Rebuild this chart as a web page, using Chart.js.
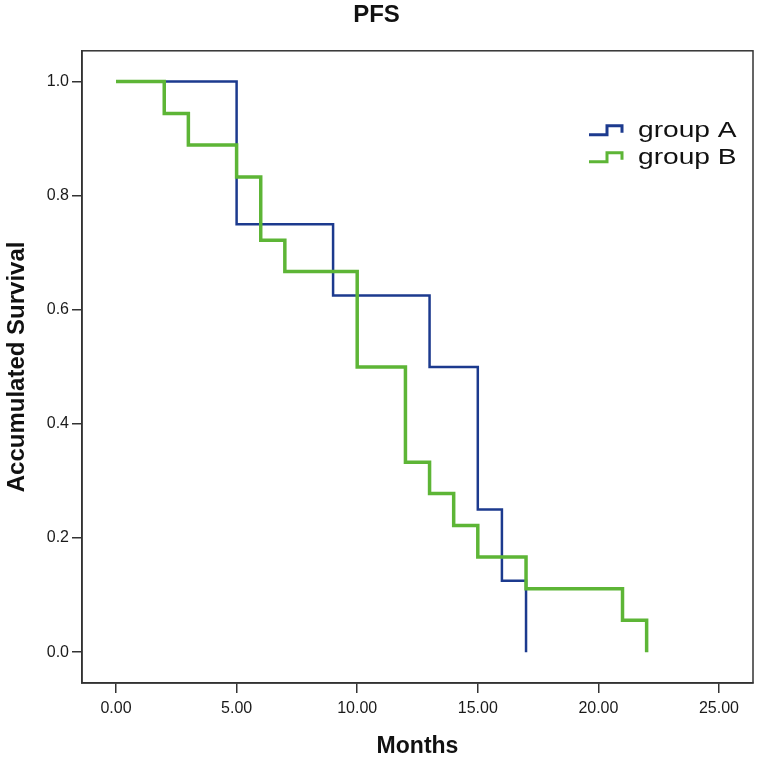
<!DOCTYPE html>
<html>
<head>
<meta charset="utf-8">
<script src="https://cdn.jsdelivr.net/npm/chart.js@4.4.1/dist/chart.umd.min.js"></script>
<style>
  body { margin: 0; background: #fff; }
</style>
</head>
<body>
<canvas id="myChart" width="760" height="762"></canvas>
<script>
const ctx = document.getElementById('myChart');

// Kaplan-Meier steps
const groupATimes = [0, 5, 9, 13, 15, 16, 17];
const groupASurv  = [1.0, 0.75, 0.625, 0.5, 0.25, 0.125, 0.0];
const groupBTimes = [0, 2, 3, 5, 6, 7, 10, 12, 13, 14, 15, 17, 21, 22];
const groupBSurv  = [1.0, 0.944, 0.889, 0.833, 0.722, 0.667, 0.5, 0.333, 0.278, 0.222, 0.167, 0.111, 0.056, 0.0];
const xTicks = [0, 5, 10, 15, 20, 25];
const yTicks = [0, 0.2, 0.4, 0.6, 0.8, 1.0];

const FONT = "'Liberation Sans', Arial, sans-serif";

function toPoints(xs, ys) {
    return xs.map((x, i) => ({ x: x, y: ys[i] }));
}

// box round the plot area
const frame = {
    id: 'frame',
    afterDraw(chart) {
        const a = chart.chartArea;
        const c = chart.ctx;
        c.save();
        c.strokeStyle = '#333';
        c.lineWidth = 1.5;
        c.strokeRect(a.left, a.top, a.right - a.left, a.bottom - a.top);
        c.restore();
    }
};

// SPSS style legend with little step symbols
const stepLegend = {
    id: 'stepLegend',
    afterDraw(chart) {
        const a = chart.chartArea;
        const c = chart.ctx;
        const x0 = a.right - 164;
        let yb = a.top + 86;
        chart.data.datasets.slice().reverse().forEach(ds => {
            c.save();
            c.strokeStyle = ds.borderColor;
            c.lineWidth = 3;
            c.beginPath();
            c.moveTo(x0, yb - 2);
            c.lineTo(x0 + 18, yb - 2);
            c.lineTo(x0 + 18, yb - 11);
            c.lineTo(x0 + 33, yb - 11);
            c.lineTo(x0 + 33, yb - 4);
            c.stroke();
            c.font = '22px ' + FONT;
            c.fillStyle = '#111';
            c.textBaseline = 'alphabetic';
            c.translate(x0 + 49, yb);
            c.scale(1.28, 1);
            c.fillText(ds.label, 0, 0);
            c.restore();
            yb += 27;
        });
    }
};

new Chart(ctx, {
    type: 'line',
    data: {
        datasets: [{
            label: 'group B',
            data: toPoints(groupBTimes, groupBSurv),
            borderColor: '#5db536',
            borderWidth: 3.5,
            stepped: 'before',
            pointRadius: 0,
            fill: false,
            order: 1
        }, {
            label: 'group A',
            data: toPoints(groupATimes, groupASurv),
            borderColor: '#1c3a8e',
            borderWidth: 2.5,
            stepped: 'before',
            pointRadius: 0,
            fill: false,
            order: 2
        }]
    },
    options: {
        responsive: false,
        animation: false,
        layout: {
            padding: { left: 0, right: 7, top: 0, bottom: 0 }
        },
        scales: {
            x: {
                type: 'linear',
                min: -1.41,
                max: 26.41,
                afterBuildTicks: s => { s.ticks = xTicks.map(v => ({ value: v })); },
                afterFit: s => { s.height = 79; },
                grid: {
                    drawOnChartArea: false,
                    tickLength: 10,
                    color: '#333',
                    lineWidth: 1.5
                },
                border: { display: true, color: '#333', width: 1.5 },
                ticks: {
                    color: '#1a1a1a',
                    padding: 6,
                    font: { family: FONT, size: 16 },
                    callback: v => Number(v).toFixed(2)
                },
                title: {
                    display: true,
                    text: 'Months',
                    color: '#111',
                    padding: { top: 0, bottom: 2 },
                    font: { family: FONT, size: 23, weight: 'bold' }
                }
            },
            y: {
                type: 'linear',
                min: -0.054,
                max: 1.054,
                afterBuildTicks: s => { s.ticks = yTicks.map(v => ({ value: v })); },
                afterFit: s => { s.width = 82; },
                grid: {
                    drawOnChartArea: false,
                    tickLength: 10,
                    color: '#333',
                    lineWidth: 1.5
                },
                border: { display: true, color: '#333', width: 1.5 },
                ticks: {
                    color: '#1a1a1a',
                    padding: 3,
                    font: { family: FONT, size: 16 },
                    callback: v => Number(v).toFixed(1)
                },
                title: {
                    display: true,
                    text: 'Accumulated Survival',
                    color: '#111',
                    padding: { top: 3, bottom: 0 },
                    font: { family: FONT, size: 24, weight: 'bold' }
                }
            }
        },
        plugins: {
            legend: { display: false },
            tooltip: { enabled: false },
            title: {
                display: true,
                text: 'PFS',
                color: '#111',
                padding: { top: 1, bottom: 21 },
                font: { family: FONT, size: 24, weight: 'bold' }
            }
        }
    },
    plugins: [frame, stepLegend]
});
</script>
</body>
</html>
